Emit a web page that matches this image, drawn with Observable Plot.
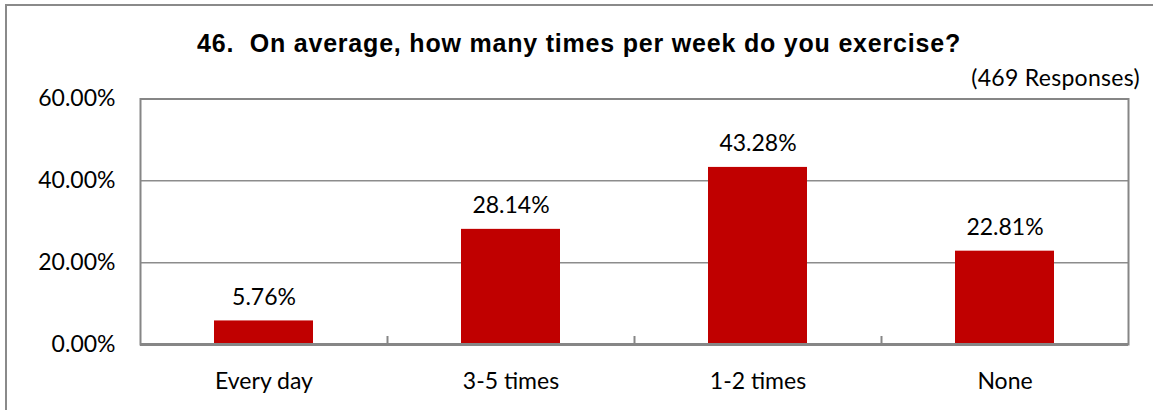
<!DOCTYPE html>
<html>
<head>
<meta charset="utf-8">
<script src="https://cdn.jsdelivr.net/npm/d3@7"></script>
<script src="https://cdn.jsdelivr.net/npm/@observablehq/plot@0.6"></script>
<style>
  html, body { margin: 0; padding: 0; background: #fff; }
  #wrap { position: relative; width: 1153px; height: 410px; overflow: hidden; background: #fff; }
  #border { position: absolute; left: 5px; top: 4px; width: 1200px; height: 500px;
            border-left: 2px solid #8a8a8a; border-top: 2px solid #8a8a8a; }
  #title { position: absolute; left: 0; top: 30.8px; width: 1158px; text-align: center;
           font-family: "Liberation Sans", Arial, sans-serif; font-weight: bold; font-size: 25px;
           line-height: 25px; color: #000; white-space: pre; letter-spacing: 0.8px; }
  #resp { position: absolute; right: 13px; top: 66px; font-family: Lato, sans-serif; font-size: 23px;
          line-height: 23px; color: #000; white-space: nowrap; letter-spacing: 0.3px; }
  #chart { position: absolute; left: 0; top: 0; }
</style>
</head>
<body>
<div id="wrap">
  <div id="chart"></div>
  <div id="border"></div>
  <div id="title"></div>
  <div id="resp"></div>
</div>
<script>
const titleText = "46.  On average, how many times per week do you exercise?";
const responsesText = "(469 Responses)";
const categories = ["Every day", "3-5 times", "1-2 times", "None"];
const values = [5.76, 28.14, 43.28, 22.81];
const yTicks = [0, 20, 40, 60];
const gridTicks = [20, 40];

document.getElementById("title").textContent = titleText;
document.getElementById("resp").textContent = responsesText;

const data = categories.map((c, i) => ({category: c, value: values[i]}));
const axisColor = "#868686";

const chart = Plot.plot({
  width: 1153,
  height: 410,
  marginLeft: 140,
  marginRight: 25,
  marginTop: 98.5,
  marginBottom: 66,
  style: {fontFamily: "Lato, sans-serif", fontSize: "23px", color: "#000", background: "transparent"},
  x: {domain: categories, paddingInner: 0.6, paddingOuter: 0.3},
  y: {domain: [0, 60]},
  marks: [
    Plot.gridY(gridTicks, {stroke: "#8c8c8c", strokeOpacity: 1, strokeWidth: 1.5}),
    Plot.barY(data, {x: "category", y: "value", fill: "#C00000"}),
    Plot.text(data, {x: "category", y: "value", text: d => d.value.toFixed(2) + "%",
                     lineAnchor: "bottom", dy: -16, fontSize: 23, fill: "#000"}),
    Plot.frame({stroke: axisColor, strokeWidth: 2}),
    Plot.ruleY([0], {stroke: axisColor, strokeWidth: 3}),
    Plot.ruleX(categories.slice(1), {x: d => d, dx: -123.5, y1: 0, y2: 0, insetTop: -8,
                                     stroke: axisColor, strokeWidth: 2}),
    Plot.axisY(yTicks, {tickSize: 0, tickPadding: 25, tickFormat: d => d.toFixed(2) + "%",
                        fontSize: 23, label: null}),
    Plot.axisX({tickSize: 0, tickPadding: 28, fontSize: 23, label: null})
  ]
});
document.getElementById("chart").appendChild(chart);
</script>
</body>
</html>
